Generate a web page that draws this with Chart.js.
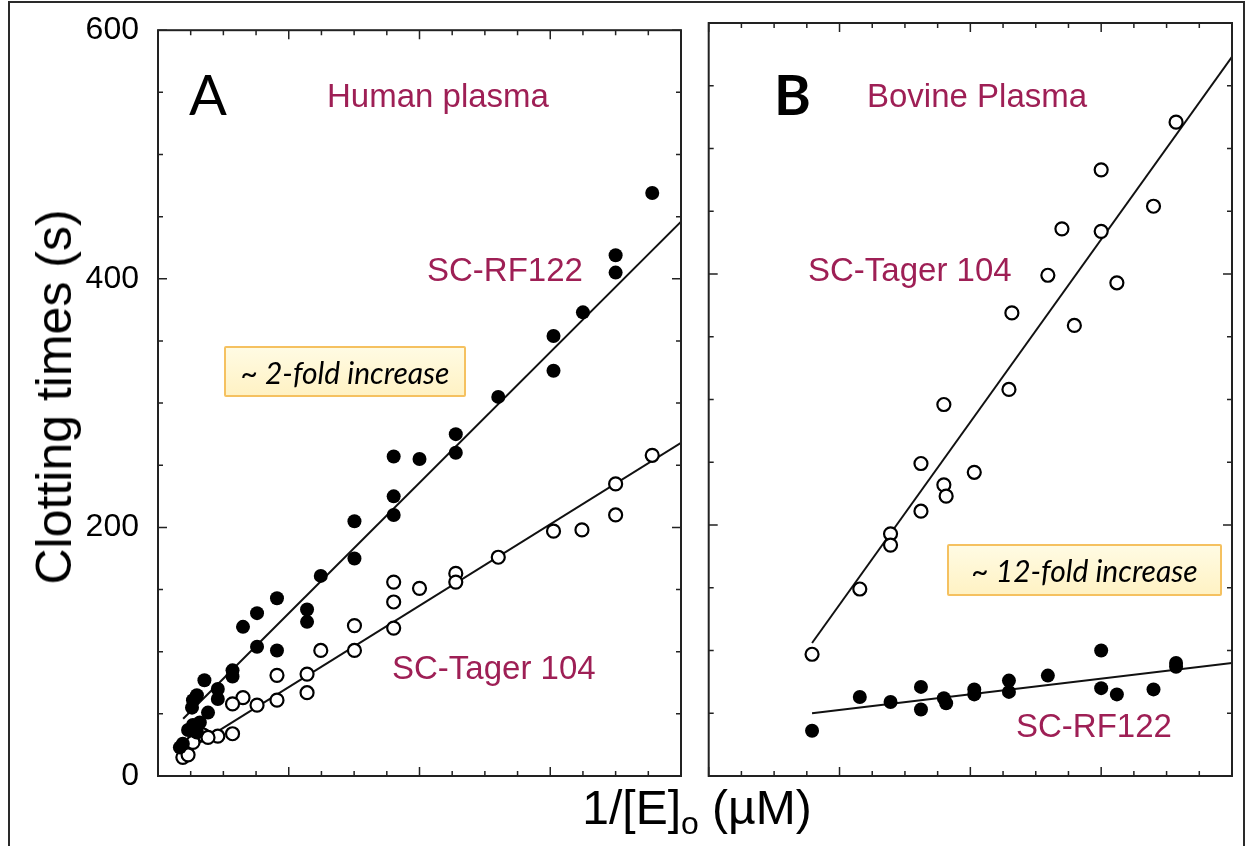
<!DOCTYPE html>
<html>
<head>
<meta charset="utf-8">
<script src="https://cdn.jsdelivr.net/npm/chart.js@4.4.1/dist/chart.umd.min.js"></script>
<style>
  html, body { margin: 0; padding: 0; background: #fff; }
  body { width: 1247px; height: 846px; position: relative; overflow: hidden; font-family: "Liberation Sans", Arial, sans-serif; }
  canvas { position: absolute; top: 0; }
  #chartA { left: 0; }
  #chartB { left: 700px; }
  .frame { position: absolute; left: 8px; top: 1px; width: 1233px; height: 900px; border: 2px solid #2a2a2a; border-bottom: none; }
  .lbl { position: absolute; line-height: 1; white-space: nowrap; font-size: 33px; color: #9e1f55; }
  .panel { position: absolute; line-height: 1; font-family: Lato, "Liberation Sans", sans-serif; font-size: 56px; color: #000; }
  .box { position: absolute; box-sizing: border-box; border: 2px solid #f5c160; border-radius: 2px;
         background: linear-gradient(#fffbe3, #fff2c4); display: flex; align-items: center; justify-content: center;
         font-family: Lato, "Liberation Sans", sans-serif; font-style: italic; font-size: 30px; color: #000; }
  .ytitle { position: absolute; left: 54px; top: 397px; transform: translate(-50%, -50%) rotate(-90deg); font-size: 50px; white-space: nowrap; line-height: 1; }
  .xtitle { position: absolute; left: 697px; top: 784px; transform: translateX(-50%); font-size: 48px; white-space: nowrap; line-height: 1; }
  .xtitle sub { font-size: 32px; vertical-align: -10px; }
</style>
</head>
<body>
<div class="frame"></div>
<canvas id="chartA" width="700" height="846"></canvas>
<canvas id="chartB" width="547" height="846"></canvas>

<div class="panel" style="left:189px; top:66px;">A</div>
<div class="panel" style="left:774px; top:66px; font-weight:bold;">B</div>
<div class="lbl" style="left:327px; top:79px;">Human plasma</div>
<div class="lbl" style="left:427px; top:253px;">SC-RF122</div>
<div class="lbl" style="left:392px; top:651px;">SC-Tager 104</div>
<div class="lbl" style="left:867px; top:79px;">Bovine Plasma</div>
<div class="lbl" style="left:808px; top:253px;">SC-Tager 104</div>
<div class="lbl" style="left:1016px; top:709px;">SC-RF122</div>
<div class="box" style="left:224px; top:346px; width:242px; height:51px;">~ 2-fold increase</div>
<div class="box" style="left:947px; top:544px; width:275px; height:52px;">~ 12-fold increase</div>
<div class="ytitle">Clotting times (s)</div>
<div class="xtitle">1/[E]<sub>o</sub> (µM)</div>

<script>
// Y axis tick labels (panel A only)
const yTicks = [0, 200, 400, 600];

// Panel A - human plasma
const humanRfX = [15.12, 14.0, 14.0, 13.0, 12.1, 12.1, 10.41, 9.11, 9.11, 7.21, 8.0, 7.21, 7.21, 6.01, 6.01, 4.98, 3.64, 3.03, 2.60, 4.56, 4.56, 3.03, 3.64, 2.28, 2.28, 1.42, 1.83, 1.83, 1.19, 1.07, 1.04, 1.53, 1.28, 1.07, 0.92, 1.19, 0.76, 0.67];
const humanRfY = [469, 419, 405, 373, 354, 326, 305, 275, 260, 257, 255, 225, 210, 205, 175, 161, 143, 131, 120, 134, 124, 104, 101, 85, 80, 77, 70, 62, 65, 61, 55, 51, 43, 41, 37, 35, 26, 23];
const humanTagerX = [15.12, 14.0, 14.0, 12.1, 12.97, 10.41, 9.11, 9.11, 8.0, 7.21, 7.21, 7.21, 6.01, 6.01, 4.98, 4.56, 4.56, 3.64, 3.64, 3.03, 2.60, 2.28, 2.28, 1.83, 1.38, 1.53, 1.07, 0.76, 0.92];
const humanTagerY = [258, 235, 210, 197, 198, 176, 163, 156, 151, 156, 140, 119, 121, 101, 101, 82, 67, 81, 61, 57, 63, 58, 34, 32, 33, 31, 27, 15, 17];
const humanRfFitX = [0.77, 16];
const humanRfFitY = [46, 446];
const humanTagerFitX = [1.04, 16];
const humanTagerFitY = [23, 268];

// Panel B - bovine plasma
const bovineTagerX = [14.29, 12.0, 13.6, 10.8, 12.0, 10.37, 12.48, 9.27, 11.18, 9.18, 7.19, 6.49, 8.12, 7.19, 7.26, 6.49, 5.56, 5.56, 4.62, 3.16];
const bovineTagerY = [521, 483, 454, 436, 434, 399, 393, 369, 359, 308, 296, 249, 242, 232, 223, 211, 193, 184, 149, 97];
const bovineRfX = [3.16, 4.62, 5.56, 6.49, 6.49, 7.19, 7.26, 8.12, 8.12, 9.18, 9.18, 10.37, 12.0, 12.0, 12.48, 13.6, 14.29, 14.29];
const bovineRfY = [36, 63, 59, 71, 53, 62, 58, 69, 65, 76, 67, 80, 100, 70, 65, 69, 90, 87];
const bovineTagerFitX = [3.16, 16];
const bovineTagerFitY = [106, 573];
const bovineRfFitX = [3.16, 16];
const bovineRfFitY = [50, 90];

const FONT = '"Liberation Sans", Arial, sans-serif';

function toPoints(xs, ys) {
  return xs.map((x, i) => ({ x: x, y: ys[i] }));
}

function filledSet(xs, ys) {
  return { data: toPoints(xs, ys), pointRadius: 7, pointBackgroundColor: '#000', pointBorderColor: '#000', pointBorderWidth: 0, showLine: false };
}

function openSet(xs, ys) {
  return { data: toPoints(xs, ys), pointRadius: 6.5, pointBackgroundColor: '#fff', pointBorderColor: '#000', pointBorderWidth: 2.2, showLine: false };
}

function fitSet(xs, ys) {
  return { type: 'line', data: toPoints(xs, ys), borderColor: '#111', borderWidth: 2, pointRadius: 0, fill: false };
}

// Frame plus inward ticks on all four sides
const frameTicks = {
  id: 'frameTicks',
  afterDraw(chart) {
    const ctx = chart.ctx;
    const a = chart.chartArea;
    const xs = chart.scales.x;
    const ys = chart.scales.y;
    ctx.save();
    ctx.strokeStyle = '#222';
    ctx.lineWidth = 2;
    ctx.strokeRect(a.left, a.top, a.right - a.left, a.bottom - a.top);
    ctx.lineWidth = 1.5;
    ctx.beginPath();
    for (let v = 0; v <= 16; v++) {
      const px = xs.getPixelForValue(v);
      const len = v % 4 === 0 ? 9 : 5;
      ctx.moveTo(px, a.bottom); ctx.lineTo(px, a.bottom - len);
      ctx.moveTo(px, a.top); ctx.lineTo(px, a.top + len);
    }
    for (let v = 0; v <= 600; v += 50) {
      const py = ys.getPixelForValue(v);
      const len = v % 200 === 0 ? 9 : 5;
      ctx.moveTo(a.left, py); ctx.lineTo(a.left + len, py);
      ctx.moveTo(a.right, py); ctx.lineTo(a.right - len, py);
    }
    ctx.stroke();
    ctx.restore();
  }
};

new Chart(document.getElementById('chartA'), {
  type: 'scatter',
  data: {
    datasets: [
      filledSet(humanRfX, humanRfY),
      openSet(humanTagerX, humanTagerY),
      fitSet(humanRfFitX, humanRfFitY),
      fitSet(humanTagerFitX, humanTagerFitY)
    ]
  },
  options: {
    responsive: false,
    animation: false,
    layout: { padding: { top: 23, right: 19, bottom: 70, left: 0 } },
    plugins: { legend: { display: false }, tooltip: { enabled: false } },
    scales: {
      x: { type: 'linear', min: 0, max: 16, display: false },
      y: {
        type: 'linear', min: 0, max: 600,
        grid: { display: false },
        border: { display: false },
        afterBuildTicks: (scale) => { scale.ticks = yTicks.map(v => ({ value: v })); },
        ticks: { color: '#000', padding: 11, font: { family: FONT, size: 32 } },
        afterFit: (scale) => { scale.width = 158; }
      }
    }
  },
  plugins: [frameTicks]
});

new Chart(document.getElementById('chartB'), {
  type: 'scatter',
  data: {
    datasets: [
      openSet(bovineTagerX, bovineTagerY),
      filledSet(bovineRfX, bovineRfY),
      fitSet(bovineTagerFitX, bovineTagerFitY),
      fitSet(bovineRfFitX, bovineRfFitY)
    ]
  },
  options: {
    responsive: false,
    animation: false,
    layout: { padding: { top: 23, right: 15, bottom: 70, left: 8 } },
    plugins: { legend: { display: false }, tooltip: { enabled: false } },
    scales: {
      x: { type: 'linear', min: 0, max: 16, display: false },
      y: { type: 'linear', min: 0, max: 600, display: false }
    }
  },
  plugins: [frameTicks]
});
</script>
</body>
</html>
